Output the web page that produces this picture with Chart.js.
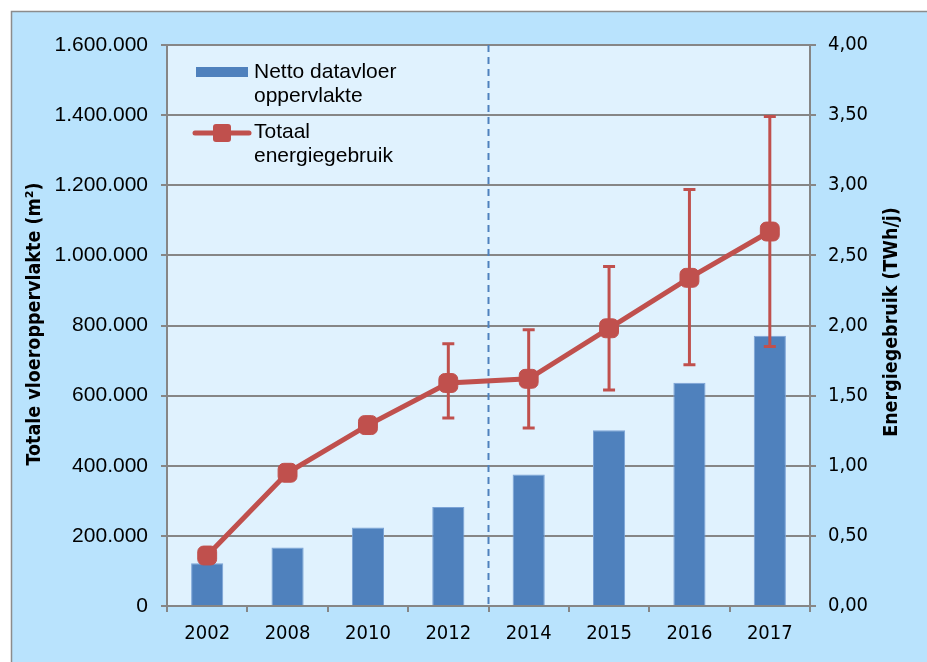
<!DOCTYPE html>
<html>
<head>
<meta charset="utf-8">
<script src="https://cdn.jsdelivr.net/npm/chart.js@4/dist/chart.umd.min.js"></script>
<style>
  body { margin: 0; background: #fff; }
  #wrap { width: 927px; height: 662px; }
</style>
</head>
<body>
<div id="wrap"><canvas id="barLineChart" width="927" height="662"></canvas></div>
<script>
// data
var years = ['2002', '2008', '2010', '2012', '2014', '2015', '2016', '2017'];
var floorArea = [122000, 167000, 224000, 282000, 375000, 501000, 637000, 771000];
var energy = [0.36, 0.95, 1.29, 1.59, 1.62, 1.98, 2.34, 2.67];
var energyLow = [null, null, null, 1.34, 1.27, 1.54, 1.72, 1.85];
var energyHigh = [null, null, null, 1.87, 1.97, 2.42, 2.97, 3.49];

var legendLabels = [['Netto datavloer', 'oppervlakte'], ['Totaal', 'energiegebruik']];
var leftTitle = 'Totale vloeroppervlakte (m\u00B2)';
var rightTitle = 'Energiegebruik (TWh/j)';

var BLUE = '#4F81BD';
var RED = '#C0504D';
var GRID = '#868686';
var titleFont = 'bold 19.5px "DejaVu Sans Condensed", "DejaVu Sans", sans-serif';
var tahomaLike = '"DejaVu Sans Condensed", "DejaVu Sans", sans-serif';

function dots(v) {
    return v.toString().replace(/\B(?=(\d{3})+(?!\d))/g, '.');
}

var decor = {
    id: 'decor',
    beforeDraw: function (chart) {
        var ctx = chart.ctx, a = chart.chartArea;
        ctx.save();
        ctx.fillStyle = '#ffffff';
        ctx.fillRect(0, 0, chart.width, chart.height);
        ctx.fillStyle = '#B9E3FD';
        ctx.fillRect(11, 11, chart.width, chart.height);
        ctx.strokeStyle = '#8c8c8c';
        ctx.lineWidth = 1.5;
        ctx.strokeRect(11.5, 11.5, chart.width + 10, chart.height + 10);
        ctx.fillStyle = '#E0F2FE';
        ctx.fillRect(a.left, a.top, a.right - a.left, a.bottom - a.top);
        ctx.restore();
    },
    beforeDatasetsDraw: function (chart) {
        // dashed separator between 2012 and 2014
        var ctx = chart.ctx, a = chart.chartArea, x = chart.scales.x;
        var px = (x.getPixelForValue(3) + x.getPixelForValue(4)) / 2;
        ctx.save();
        ctx.strokeStyle = BLUE;
        ctx.lineWidth = 2;
        ctx.setLineDash([7, 5]);
        ctx.beginPath();
        ctx.moveTo(px, a.top);
        ctx.lineTo(px, a.bottom);
        ctx.stroke();
        ctx.restore();
    },
    beforeDatasetDraw: function (chart, args) {
        if (args.index !== 1) return;
        // error bars under the line
        var ctx = chart.ctx, x = chart.scales.x, y = chart.scales.y1;
        ctx.save();
        ctx.strokeStyle = RED;
        ctx.lineWidth = 3;
        for (var i = 0; i < years.length; i++) {
            if (energyLow[i] === null) continue;
            var px = x.getPixelForValue(i);
            var lo = y.getPixelForValue(energyLow[i]);
            var hi = y.getPixelForValue(energyHigh[i]);
            ctx.beginPath();
            ctx.moveTo(px, lo);
            ctx.lineTo(px, hi);
            ctx.moveTo(px - 6, lo);
            ctx.lineTo(px + 6, lo);
            ctx.moveTo(px - 6, hi);
            ctx.lineTo(px + 6, hi);
            ctx.stroke();
        }
        ctx.restore();
    },
    afterDraw: function (chart) {
        var ctx = chart.ctx;
        ctx.save();
        // legend inside the plot
        ctx.fillStyle = BLUE;
        ctx.fillRect(196, 67, 52, 10);
        ctx.strokeStyle = RED;
        ctx.lineWidth = 5;
        ctx.lineCap = 'round';
        ctx.beginPath();
        ctx.moveTo(195, 133);
        ctx.lineTo(249, 133);
        ctx.stroke();
        ctx.fillStyle = RED;
        ctx.beginPath();
        ctx.roundRect(213, 124, 18, 18, 3);
        ctx.fill();
        ctx.fillStyle = '#000';
        ctx.font = '21px "Liberation Sans", Arial, sans-serif';
        ctx.textAlign = 'left';
        ctx.textBaseline = 'alphabetic';
        ctx.fillText(legendLabels[0][0], 254, 78);
        ctx.fillText(legendLabels[0][1], 254, 102);
        ctx.fillText(legendLabels[1][0], 254, 138);
        ctx.fillText(legendLabels[1][1], 254, 162);
        // axis titles, both read bottom to top
        ctx.font = titleFont;
        ctx.textAlign = 'center';
        ctx.textBaseline = 'middle';
        ctx.translate(35, 324);
        ctx.rotate(-Math.PI / 2);
        ctx.fillText(leftTitle, 0, 0);
        ctx.setTransform(1, 0, 0, 1, 0, 0);
        ctx.translate(892, 322);
        ctx.rotate(-Math.PI / 2);
        ctx.fillText(rightTitle, 0, 0);
        ctx.restore();
    }
};

var chart = new Chart(document.getElementById('barLineChart').getContext('2d'), {
    type: 'bar',
    data: {
        labels: years,
        datasets: [
            {
                type: 'bar',
                label: 'Netto datavloer oppervlakte',
                data: floorArea,
                yAxisID: 'y',
                backgroundColor: BLUE,
                borderColor: '#7BA3D6',
                borderWidth: 1,
                barPercentage: 0.4,
                categoryPercentage: 1,
                order: 1
            },
            {
                type: 'line',
                label: 'Totaal energiegebruik',
                data: energy,
                yAxisID: 'y1',
                borderColor: RED,
                backgroundColor: RED,
                borderWidth: 5,
                pointStyle: 'rectRounded',
                pointRadius: 11,
                pointBorderWidth: 1,
                tension: 0,
                order: 0
            }
        ]
    },
    options: {
        responsive: false,
        animation: false,
        layout: { padding: { top: 45, left: 0, right: 0, bottom: 0 } },
        plugins: {
            legend: { display: false },
            tooltip: { enabled: false }
        },
        scales: {
            x: {
                grid: { offset: true, drawOnChartArea: false, color: GRID, lineWidth: 2, tickLength: 6 },
                border: { color: GRID, width: 2 },
                ticks: { color: '#000', font: { family: tahomaLike, size: 20 }, padding: 10, maxRotation: 0, autoSkip: false },
                afterFit: function (scale) { scale.height = 56; }
            },
            y: {
                position: 'left',
                min: 0,
                max: 1600000,
                grid: { color: GRID, lineWidth: 2, tickLength: 6 },
                border: { color: GRID, width: 2 },
                ticks: {
                    stepSize: 200000,
                    color: '#000',
                    padding: 13,
                    font: { family: '"Liberation Sans", Arial, sans-serif', size: 21 },
                    callback: function (v) { return dots(v); }
                },
                afterFit: function (scale) { scale.width = 167; }
            },
            y1: {
                position: 'right',
                min: 0,
                max: 4,
                grid: { drawOnChartArea: false, color: GRID, lineWidth: 2, tickLength: 6 },
                border: { color: GRID, width: 2 },
                ticks: {
                    stepSize: 0.5,
                    color: '#000',
                    padding: 12,
                    font: { family: tahomaLike, size: 20 },
                    callback: function (v) { return v.toFixed(2).replace('.', ','); }
                },
                afterFit: function (scale) { scale.width = 117; }
            }
        }
    },
    plugins: [decor]
});
</script>
</body>
</html>
